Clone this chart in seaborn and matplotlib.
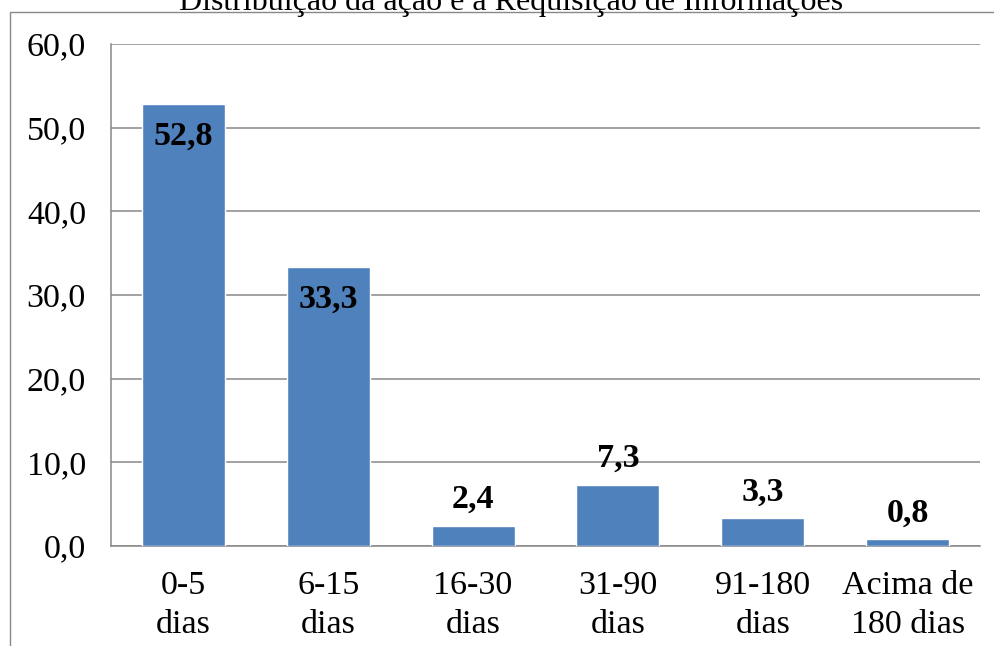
import matplotlib
matplotlib.use("Agg")
import matplotlib.pyplot as plt
from matplotlib.patches import Rectangle
import seaborn as sns
import pandas as pd

categorias = ["0-5\ndias", "6-15\ndias", "16-30\ndias", "31-90\ndias", "91-180\ndias", "Acima de\n180 dias"]
percentuais = [52.8, 33.3, 2.4, 7.3, 3.3, 0.8]
titulo = "Distribuição da ação e a Requisição de Informações"
yticks = [0, 10, 20, 30, 40, 50, 60]

df = pd.DataFrame({"categoria": categorias, "percentual": percentuais})

sns.set_style("white")
plt.rcParams["font.family"] = ["Liberation Serif", "DejaVu Serif"]
plt.rcParams["text.color"] = "black"

W, H = 994, 646
fig = plt.figure(figsize=(W / 100, H / 100), dpi=100)
ax = fig.add_axes([111 / W, 1 - 546 / H, (980 - 111) / W, (546 - 44) / H])

grid_color = "#878787"
sns.barplot(data=df, x="categoria", y="percentual", color="#4F81BD",
            width=0.573, saturation=1, ax=ax, zorder=3)

ax.set_xlim(-0.5, len(categorias) - 0.5)
ax.set_ylim(0, 60)
ax.set_yticks(yticks)
ax.set_yticklabels([f"{v:.1f}".replace(".", ",") for v in yticks])
ax.yaxis.grid(True, color=grid_color, linewidth=1.1, zorder=0)
ax.set_axisbelow(True)
ax.set_xlabel("")
ax.set_ylabel("")

for side in ["top", "right"]:
    ax.spines[side].set_visible(False)
for side in ["left", "bottom"]:
    ax.spines[side].set_color(grid_color)
    ax.spines[side].set_linewidth(1.1)

fs = 24.5
ax.tick_params(axis="y", length=0, pad=18, labelsize=fs, labelcolor="black")
ax.tick_params(axis="x", length=0, pad=18, labelsize=fs, labelcolor="black")
for lbl in ax.get_xticklabels():
    lbl.set_linespacing(1.33)

# value labels: inside the top of tall bars, above the short ones
for i, v in enumerate(percentuais):
    txt = f"{v:.1f}".replace(".", ",")
    if v >= 30:
        ax.annotate(txt, (i, v), xytext=(0, -12), textcoords="offset points",
                    ha="center", va="top", fontsize=fs, fontweight="bold",
                    color="black", zorder=5)
    else:
        ax.annotate(txt, (i, v), xytext=(0, 13), textcoords="offset points",
                    ha="center", va="baseline", fontsize=fs, fontweight="bold",
                    color="black", zorder=5)

# chart area border
fig.add_artist(Rectangle((10 / W, -0.1), 2, 1.1 - 12 / H, transform=fig.transFigure,
                         fill=False, edgecolor="#888888", linewidth=1.0))

fig.text(511 / W, 1 - 10 / H, titulo, ha="center", va="baseline", fontsize=23,
         color="black")

fig.savefig("out.png", dpi=100)
